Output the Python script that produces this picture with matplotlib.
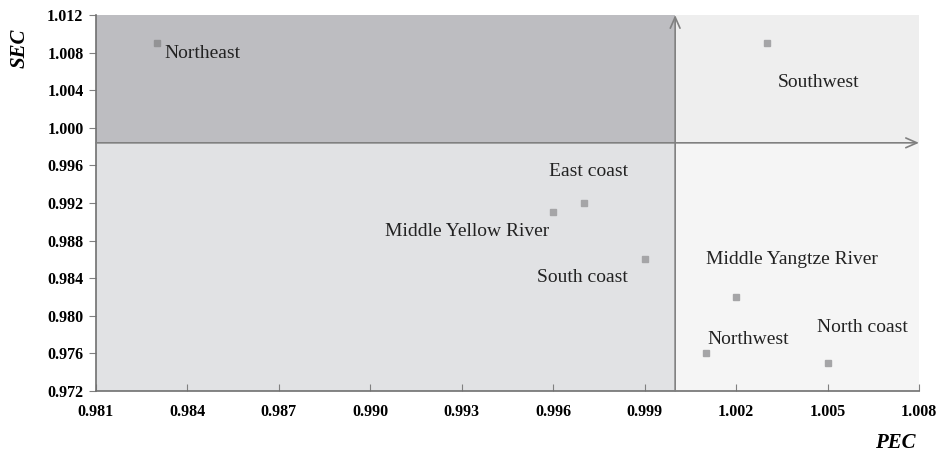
import matplotlib.pyplot as plt

plt.rcParams['font.family'] = ['Liberation Serif', 'DejaVu Serif']

regions = ['Northeast', 'Southwest', 'East coast', 'Middle Yellow River',
           'South coast', 'Middle Yangtze River', 'Northwest', 'North coast']
pec = [0.983, 1.003, 0.997, 0.996, 0.999, 1.002, 1.001, 1.005]
sec = [1.009, 1.009, 0.992, 0.991, 0.986, 0.982, 0.976, 0.975]

x_ticks = [0.981, 0.984, 0.987, 0.990, 0.993, 0.996, 0.999, 1.002, 1.005, 1.008]
y_ticks = [0.972, 0.976, 0.980, 0.984, 0.988, 0.992, 0.996, 1.000, 1.004, 1.008, 1.012]
pec_cut = 1.000
sec_cut = 0.9984

# label offsets (pixels) and alignment
offs = [(7, -10, 'left'), (52, -39, 'center'), (5, 31, 'center'), (-4, -19, 'right'),
        (-17, -18, 'right'), (56, 38, 'center'), (43, 14, 'center'), (35, 35, 'center')]

fig = plt.figure(figsize=(9.38, 4.54), dpi=100)
ax = fig.add_axes([96 / 938, 1 - 391 / 454, (919 - 96) / 938, (391 - 15) / 454])
x0, x1 = 0.981, 1.008
y0, y1 = 0.972, 1.012
ax.set_xlim(x0, x1)
ax.set_ylim(y0, y1)

ax.fill_between([x0, pec_cut], sec_cut, y1, color='#bdbdc1', lw=0, zorder=0)
ax.fill_between([x0, pec_cut], y0, sec_cut, color='#e1e2e4', lw=0, zorder=0)
ax.fill_between([pec_cut, x1], sec_cut, y1, color='#eeeeee', lw=0, zorder=0)
ax.fill_between([pec_cut, x1], y0, sec_cut, color='#f5f5f5', lw=0, zorder=0)

ax.annotate('', xy=(pec_cut, y1), xytext=(pec_cut, y0),
            arrowprops=dict(arrowstyle='->,head_length=0.8,head_width=0.35', color='#808080', lw=1.2,
                            shrinkA=0, shrinkB=0), annotation_clip=False)
ax.annotate('', xy=(x1, sec_cut), xytext=(x0, sec_cut),
            arrowprops=dict(arrowstyle='->,head_length=0.8,head_width=0.35', color='#808080', lw=1.2,
                            shrinkA=0, shrinkB=0), annotation_clip=False)

for i, name in enumerate(regions):
    c = '#939395' if i == 0 else '#a5a5a7'
    ax.plot(pec[i], sec[i], 's', color=c, markersize=4.8, zorder=3)
    dx, dy, ha = offs[i]
    ax.annotate(name, (pec[i], sec[i]), xytext=(dx, dy), textcoords='offset pixels',
                ha=ha, va='center', fontsize=14, color='#222222')

ax.set_xticks(x_ticks)
ax.set_yticks(y_ticks)
ax.set_xticklabels(['%.3f' % v for v in x_ticks], fontweight='bold', fontsize=11.5)
ax.set_yticklabels(['%.3f' % v for v in y_ticks], fontweight='bold', fontsize=11.5)
ax.tick_params(axis='x', direction='in', length=5, color='#808080', pad=9)
ax.tick_params(axis='y', direction='out', length=5, color='#808080', pad=4)
for s in ['top', 'right']:
    ax.spines[s].set_visible(False)
for s in ['left', 'bottom']:
    ax.spines[s].set_color('#707070')
    ax.spines[s].set_linewidth(1.2)

fig.text(895 / 938, 1 - 443 / 454, 'PEC', fontsize=15, fontweight='bold', style='italic',
         ha='center', va='center')
fig.text(20 / 938, 1 - 48 / 454, 'SEC', fontsize=15, fontweight='bold', style='italic',
         ha='center', va='center', rotation=90)

fig.savefig('out.png', dpi=100)
